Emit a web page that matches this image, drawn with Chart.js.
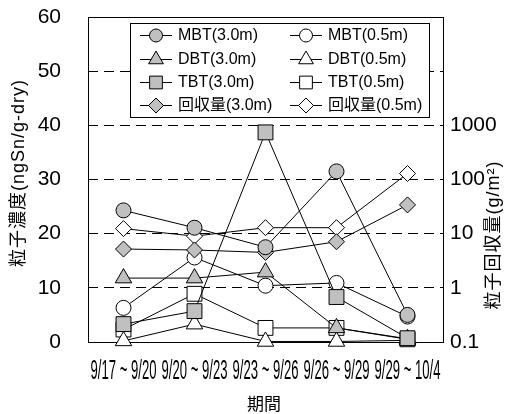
<!DOCTYPE html>
<html>
<head>
<meta charset="utf-8">
<script src="https://cdn.jsdelivr.net/npm/chart.js@4.4.0/dist/chart.umd.min.js"></script>
<style>
html, body { margin: 0; padding: 0; background: #fff; }
</style>
</head>
<body>
<canvas id="c" width="506" height="414"></canvas>
<script>
// periods (x categories)
const periods = ['9/17 ~ 9/20', '9/20 ~ 9/23', '9/23 ~ 9/26', '9/26 ~ 9/29', '9/29 ~ 10/4'];

// particle concentration, ngSn/g-dry (left axis)
const mbt30 = [24.3, 21.1, 17.5, 31.5, 5.0];
const mbt05 = [6.3, 15.6, 10.4, 10.9, 4.7];
const dbt30 = [11.8, 11.8, 12.9, 2.6, 0.6];
const dbt05 = [0.2, 3.3, 0.1, 0.1, 0.3];
const tbt30 = [3.3, 5.7, 38.7, 8.3, 0.7];
const tbt05 = [2.3, 8.9, 2.6, 2.6, 0.5];

// particle amount collected, g/m2 (right axis, log)
const amt30 = [5.2, 5.0, 4.5, 7.1, 34];
const amt05 = [12.4, 9.0, 12.9, 12.9, 129];

const leftTicks = [0, 10, 20, 30, 40, 50, 60];
const rightTicks = [0.1, 1, 10, 100, 1000];

const GRAY = '#c0c0c0';
const NONE = 'rgba(0,0,0,0)';
const FONT = '"Liberation Sans", Arial, "Noto Sans CJK JP", sans-serif';

const sizes = { circle: 7.5, triangle: 9.5, rect: 10.5, rectRot: 8 };
const legendSizes = { circle: 6.5, triangle: 8.5, rect: 9, rectRot: 7.5 };

function ds(label, data, style, fill, axis, order) {
  return {
    label: label,
    data: data,
    yAxisID: axis,
    borderColor: '#000',
    borderWidth: 1,
    backgroundColor: fill,
    pointStyle: style,
    pointRadius: sizes[style],
    pointHoverRadius: sizes[style],
    pointBackgroundColor: fill,
    pointBorderColor: '#000',
    pointBorderWidth: 1,
    tension: 0,
    clip: false,
    order: order
  };
}

const datasets = [
  ds('MBT(3.0m)', mbt30, 'circle', GRAY, 'y', 1),
  ds('MBT(0.5m)', mbt05, 'circle', '#fff', 'y', 2),
  ds('DBT(3.0m)', dbt30, 'triangle', GRAY, 'y', 1),
  ds('DBT(0.5m)', dbt05, 'triangle', '#fff', 'y', 2),
  ds('TBT(3.0m)', tbt30, 'rect', GRAY, 'y', 0),
  ds('TBT(0.5m)', tbt05, 'rect', '#fff', 'y', 2),
  ds('回収量(3.0m)', amt30, 'rectRot', GRAY, 'y1', 1),
  ds('回収量(0.5m)', amt05, 'rectRot', '#fff', 'y1', 2)
];

const extras = {
  id: 'extras',
  beforeDatasetsDraw(chart) {
    const ctx = chart.ctx, a = chart.chartArea;
    ctx.save();
    ctx.strokeStyle = '#000';
    ctx.lineWidth = 1;
    const l = Math.round(a.left) + 0.5, t = Math.round(a.top) + 0.5;
    const r = Math.round(a.right) + 0.5, b = Math.round(a.bottom) + 0.5;
    ctx.strokeRect(l, t, r - l, b - t);
    ctx.restore();
  },
  afterDraw(chart) {
    const ctx = chart.ctx;
    const xs = chart.scales.x;
    ctx.save();
    ctx.fillStyle = '#000';

    // condensed period labels
    ctx.font = '27px ' + FONT;
    ctx.textAlign = 'center';
    ctx.textBaseline = 'middle';
    periods.forEach((p, i) => {
      const w = ctx.measureText(p).width;
      const k = 66 / w;
      ctx.save();
      ctx.translate(xs.getPixelForValue(i), 372);
      ctx.scale(k, 1);
      ctx.fillText(p, 0, 0);
      ctx.restore();
    });

    // x title
    ctx.font = '17px ' + FONT;
    ctx.fillText('期間', 264, 405);

    // y titles
    ctx.font = '18px ' + FONT;
    ctx.letterSpacing = '1px';
    ctx.save();
    ctx.translate(19, 173);
    ctx.rotate(-Math.PI / 2);
    ctx.fillText('粒子濃度(ngSn/g-dry)', 0, 0);
    ctx.restore();
    ctx.save();
    ctx.translate(494, 235);
    ctx.rotate(-Math.PI / 2);
    ctx.fillText('粒子回収量(g/m²)', 0, 0);
    ctx.restore();
    ctx.letterSpacing = '0px';

    // legend inside the plot
    ctx.fillStyle = '#fff';
    ctx.fillRect(130.5, 23.5, 299, 94);
    ctx.strokeStyle = '#000';
    ctx.lineWidth = 1;
    ctx.strokeRect(130.5, 23.5, 299, 94);
    const rows = [35, 58.5, 82, 105];
    const cols = [{ l: 140, m: 156, r: 172, t: 178 }, { l: 290, m: 306, r: 322, t: 328 }];
    ctx.font = '16px ' + FONT;
    ctx.textAlign = 'left';
    ctx.textBaseline = 'middle';
    chart.data.datasets.forEach((d, i) => {
      const c = cols[i % 2];
      const y = rows[Math.floor(i / 2)];
      ctx.strokeStyle = '#000';
      ctx.beginPath();
      ctx.moveTo(c.l, Math.round(y) + 0.5);
      ctx.lineTo(c.r, Math.round(y) + 0.5);
      ctx.stroke();
      ctx.fillStyle = d.pointBackgroundColor;
      Chart.helpers.drawPoint(ctx, {
        pointStyle: d.pointStyle,
        radius: legendSizes[d.pointStyle],
        rotation: 0,
        borderWidth: 1
      }, c.m, Math.round(y) + 0.5);
      ctx.fillStyle = '#000';
      ctx.fillText(d.label, c.t, y + 1);
    });
    ctx.restore();
  }
};

new Chart(document.getElementById('c'), {
  type: 'line',
  data: { labels: periods, datasets: datasets },
  plugins: [extras],
  options: {
    responsive: false,
    animation: false,
    layout: { padding: { top: 17, left: 0, right: 0, bottom: 0 } },
    plugins: { legend: { display: false }, tooltip: { enabled: false } },
    scales: {
      x: {
        type: 'category',
        offset: true,
        grid: { display: false },
        border: { display: false },
        ticks: { display: false },
        afterFit: s => { s.height = 72; }
      },
      y: {
        position: 'left',
        min: 0,
        max: 60,
        afterBuildTicks: s => { s.ticks = leftTicks.map(v => ({ value: v })); },
        ticks: {
          padding: 0,
          color: '#000',
          font: { size: 21, family: FONT }
        },
        grid: {
          drawTicks: true,
          tickLength: 27,
          tickColor: NONE,
          lineWidth: 1,
          color: c => (c.tick && (c.tick.value === 0 || c.tick.value === 60)) ? NONE : '#000'
        },
        border: { display: false, dash: [10, 6] },
        afterFit: s => { s.width = 88; }
      },
      y1: {
        type: 'logarithmic',
        position: 'right',
        min: 0.1,
        max: 100000,
        afterBuildTicks: s => { s.ticks = rightTicks.map(v => ({ value: v })); },
        ticks: {
          padding: 0,
          color: '#000',
          font: { size: 21, family: FONT },
          callback: v => String(v)
        },
        grid: { display: true, drawOnChartArea: false, drawTicks: true, tickLength: 7, color: NONE, tickColor: NONE },
        border: { display: false },
        afterFit: s => { s.width = 63; }
      }
    }
  }
});
</script>
</body>
</html>
